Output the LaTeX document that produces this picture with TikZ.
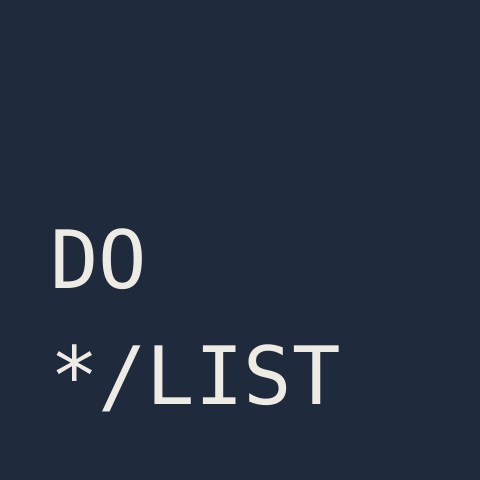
\documentclass[tikz,border=0pt]{standalone}
\usepackage{fontspec}
\setmonofont{DejaVu Sans Mono}
\definecolor{bgnavy}{HTML}{1F2A3C}
\definecolor{cream}{HTML}{EDEBE4}
\begin{document}
\begin{tikzpicture}[x=1pt,y=1pt,
  label/.style={anchor=base west,inner sep=0pt,outer sep=0pt,text=cream,
    font=\ttfamily\fontsize{80.5}{81}\selectfont}]
\fill[bgnavy] (0,0) rectangle (480,480);
\useasboundingbox (0,0) rectangle (480,480);
\node[label] (do) at (50,{480-289}) {DO};
\node[label] (list) at (50,{480-405}) {*/LIST};
\end{tikzpicture}
\end{document}
